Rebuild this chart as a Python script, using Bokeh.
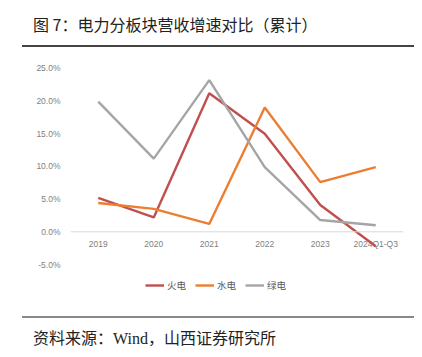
from bokeh.plotting import figure
from bokeh.models import Div, Range1d, FactorRange, NumeralTickFormatter, Legend, LegendItem, Span, ColumnDataSource, FixedTicker
from bokeh.core.properties import value
from bokeh.layouts import column
from bokeh.embed import file_html
from bokeh.resources import INLINE

years = ["2019", "2020", "2021", "2022", "2023", "2024Q1-Q3"]
thermal = [0.052, 0.022, 0.212, 0.150, 0.041, -0.022]
hydro = [0.044, 0.035, 0.012, 0.190, 0.076, 0.099]
green = [0.199, 0.112, 0.232, 0.099, 0.018, 0.010]
series_names = ["火电", "水电", "绿电"]
colors = ["#C0504D", "#ED7D31", "#A5A5A5"]
y_ticks = [-0.05, 0, 0.05, 0.10, 0.15, 0.20, 0.25]

title = Div(
    text=("<div style=\"font-family:'Noto Sans CJK SC';font-size:16px;line-height:22px;color:#222;"
          "width:392px;height:39px;box-sizing:border-box;padding:5px 0 0 11px;"
          "border-bottom:2px solid #444;\">图 7：电力分板块营收增速对比（累计）</div>"),
    width=392, height=39, margin=(0, 0, 0, 14),
)

p = figure(width=406, height=268, x_range=FactorRange(*years), y_range=Range1d(-0.128, 0.262),
           output_backend="svg", toolbar_location=None,
           min_border_left=62, min_border_right=11, min_border_top=13, min_border_bottom=0)
p.outline_line_color = None
p.xgrid.visible = False
p.ygrid.visible = False

p.yaxis.ticker = FixedTicker(ticks=y_ticks)
p.yaxis.formatter = NumeralTickFormatter(format="0.0%")
p.yaxis.axis_line_color = None
p.yaxis.major_tick_line_color = None
p.yaxis.minor_tick_line_color = None
p.yaxis.major_label_text_font = "Liberation Sans"
p.yaxis.major_label_text_font_size = "8.5px"
p.yaxis.major_label_text_color = "#7f7f7f"
p.yaxis.major_label_standoff = 4

p.xaxis.visible = False
p.add_layout(Span(location=0, dimension="width", line_color="#D9D9D9", line_width=1))

lab_src = ColumnDataSource(data=dict(x=years, y=[0] * len(years), t=years))
p.text(x="x", y="y", text="t", source=lab_src, text_align="center", text_baseline="middle",
       y_offset=12, text_font=value("Liberation Sans"), text_font_size="8.5px", text_color="#7f7f7f")

items = []
for name, vals, c in zip(series_names, [thermal, hydro, green], colors):
    r = p.line(years, vals, line_color=c, line_width=2.4)
    items.append(LegendItem(label=name, renderers=[r]))

legend = Legend(items=items, orientation="horizontal", location=(75, 23),
                label_text_font="Noto Sans CJK SC", label_text_font_size="9.5px",
                label_text_color="#595959", glyph_width=19, glyph_height=12, label_height=12,
                spacing=8, padding=2, margin=0, label_standoff=3,
                border_line_color=None, background_fill_alpha=0)
p.add_layout(legend)

source = Div(
    text=("<div style=\"font-family:'Liberation Serif','Noto Sans CJK SC';font-size:16px;line-height:22px;"
          "color:#222;width:392px;height:34px;box-sizing:border-box;padding:10px 0 0 11px;"
          "border-top:2px solid #888;\">资料来源：Wind，山西证券研究所</div>"),
    width=392, height=34, margin=(1, 0, 0, 14),
)

layout = column(title, p, source, spacing=0, margin=(8, 0, 0, 8))
open("out.html", "w").write(file_html(layout, INLINE))
